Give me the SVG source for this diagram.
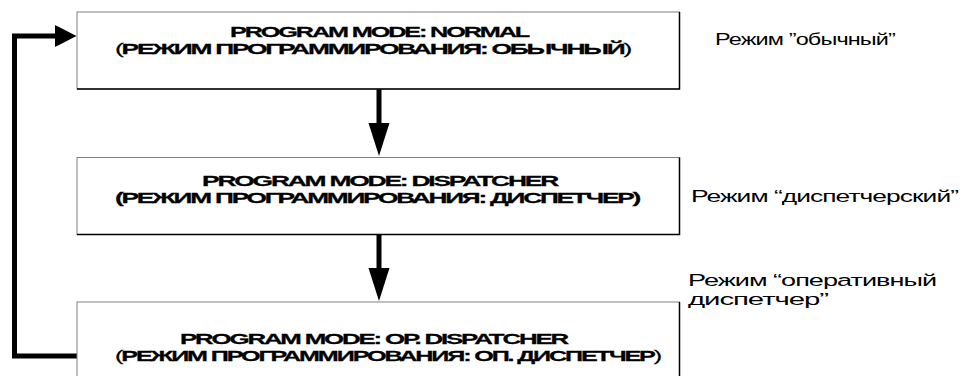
<svg xmlns="http://www.w3.org/2000/svg" width="962" height="376" viewBox="0 0 962 376">
<style>
.box{fill:#fff;stroke:#808080;stroke-width:1}
.edge{fill:none;stroke:#000;stroke-width:1.5}
.t{font-family:"Liberation Sans",Arial,sans-serif;font-size:15.3px;font-weight:bold;fill:#000;stroke:#000;stroke-width:0.25px;letter-spacing:-1.3px}
.n{font-weight:normal}
.lbl{font-family:"Liberation Sans",Arial,sans-serif;font-size:16.5px;fill:#000;letter-spacing:-0.6px}
.wire{fill:none;stroke:#000;stroke-width:5}
.head{fill:#000;stroke:none}
</style>
<rect width="962" height="376" fill="#fff"/>
<g id="connectors">
<line class="wire" x1="379" y1="89" x2="379" y2="125"/>
<polygon class="head" points="368.5,123 389.5,123 379,156"/>
<line class="wire" x1="379" y1="234.5" x2="379" y2="270"/>
<polygon class="head" points="368.5,268 389.5,268 379,301"/>
<polyline class="wire" points="77,356 14.5,356 14.5,36 57,36"/>
<polygon class="head" points="55,25 55,47 76.5,36"/>
</g>
<g id="node-normal">
<rect class="box" x="77" y="12" width="602.5" height="77"/>
<polyline class="edge" points="679.5,12 679.5,89 77,89"/>
<text class="t" transform="translate(230,36.5) scale(1.4,1)" textLength="212.9" lengthAdjust="spacingAndGlyphs">PROGRAM MODE: NORMAL</text>
<text class="t" transform="translate(115,53.5) scale(1.4,1)" textLength="367.9" lengthAdjust="spacingAndGlyphs"><tspan class="n">(</tspan>РЕЖИМ ПРОГРАММИРОВАНИЯ: ОБЫЧНЫЙ<tspan class="n">)</tspan></text>
</g>
<g id="node-dispatcher">
<rect class="box" x="77" y="157.5" width="602.5" height="77"/>
<polyline class="edge" points="679.5,157.5 679.5,234.5 77,234.5"/>
<text class="t" transform="translate(202,186) scale(1.4,1)" textLength="253.6" lengthAdjust="spacingAndGlyphs">PROGRAM MODE: DISPATCHER</text>
<text class="t" transform="translate(115,202.5) scale(1.4,1)" textLength="374.3" lengthAdjust="spacingAndGlyphs">(РЕЖИМ ПРОГРАММИРОВАНИЯ: ДИСПЕТЧЕР)</text>
</g>
<g id="node-op-dispatcher">
<rect class="box" x="77" y="302" width="602.5" height="80"/>
<polyline class="edge" points="679.5,302 679.5,382"/>
<text class="t" transform="translate(180,344) scale(1.4,1)" textLength="276.4" lengthAdjust="spacingAndGlyphs">PROGRAM MODE: OP. DISPATCHER</text>
<text class="t" transform="translate(115,360.5) scale(1.4,1)" textLength="389.3" lengthAdjust="spacingAndGlyphs"><tspan class="n">(</tspan>РЕЖИМ ПРОГРАММИРОВАНИЯ: ОП. ДИСПЕТЧЕР<tspan class="n">)</tspan></text>
</g>
<g id="label-normal">
<text class="lbl" transform="translate(715,45) scale(1.3,1)" textLength="138.5" lengthAdjust="spacingAndGlyphs">Режим ”обычный”</text>
</g>
<g id="label-dispatcher">
<text class="lbl" transform="translate(691,202) scale(1.3,1)" textLength="205.4" lengthAdjust="spacingAndGlyphs">Режим “диспетчерский”</text>
</g>
<g id="label-op-dispatcher">
<text class="lbl" transform="translate(688,286) scale(1.3,1)" textLength="190.8" lengthAdjust="spacingAndGlyphs">Режим “оперативный</text>
<text class="lbl" transform="translate(688,305) scale(1.3,1)" textLength="107.7" lengthAdjust="spacingAndGlyphs">диспетчер”</text>
</g>
</svg>
